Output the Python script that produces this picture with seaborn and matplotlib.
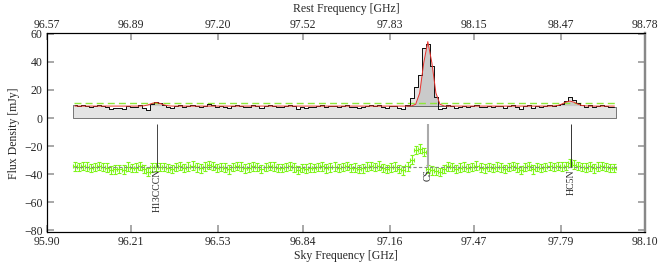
import numpy as np
import pandas as pd
import seaborn as sns
import matplotlib.pyplot as plt

# channel grid (sky frequency, GHz)
chan_start = 95.995
chan_width = 0.014925
n_chan = 134

# observed flux per channel [mJy]
flux = [9.0, 8.6, 9.4, 8.8, 7.9, 8.4, 9.1, 8.7, 8.2, 6.6,
        6.8, 7.3, 6.7, 8.9, 7.8, 8.1, 9.3, 7.4, 6.0, 10.2,
        11.2, 10.6, 9.4, 8.1, 7.0, 8.6, 9.2, 7.9, 8.8, 9.6,
        8.3, 7.6, 8.9, 9.9, 9.1, 8.0, 8.7, 8.2, 6.9, 8.5,
        9.3, 8.8, 7.5, 8.1, 9.0, 8.4, 7.2, 8.6, 9.4, 8.9,
        8.0, 7.7, 8.5, 9.2, 8.3, 6.4, 8.0, 7.4, 8.1, 7.9,
        8.6, 9.0, 7.6, 8.3, 8.9, 8.0, 8.4, 9.3, 7.8, 8.2,
        7.0, 7.5, 8.8, 9.1, 8.4, 9.6, 8.0, 7.1, 8.3, 8.9,
        7.3, 6.2, 9.0, 14.0, 22.0, 31.0, 50.0, 53.0, 37.0, 15.0,
        6.2, 7.4, 9.0, 8.6, 7.2, 8.1, 8.8, 7.9, 8.4, 9.5,
        8.2, 7.6, 8.7, 8.0, 8.9, 8.3, 7.0, 8.5, 9.2, 8.1,
        6.3, 8.4, 9.4, 6.8, 8.7, 8.0, 8.5, 9.1, 8.6, 9.6,
        10.3, 12.0, 15.2, 13.0, 10.8, 9.0, 8.2, 9.0, 7.6, 8.8,
        9.1, 8.4, 7.8, 7.9]

# fitted model per channel [mJy]
model = [8.5] * 17 + [8.7, 9.3, 10.4, 11.0, 10.4, 9.3, 8.7] + [8.5] * 59 + \
        [8.6, 9.8, 17.8, 39.4, 54.5, 39.4, 17.8, 9.8, 8.6] + [8.5] * 26 + \
        [8.6, 8.9, 9.9, 11.3, 12.1, 11.3, 9.9, 8.9, 8.6] + [8.5] * 7

noise_level = 10.4
resid_offset = -35.0
resid_err = 3.0

line_names = ["H13CCCN", "CS", "HC5N"]
line_freqs = [96.306, 97.301, 97.828]
line_colors = ["#444444", "#aaaaaa", "#333333"]

sky_ticks = [95.90, 96.21, 96.53, 96.84, 97.16, 97.47, 97.79, 98.10]
rest_labels = ["96.57", "96.89", "97.20", "97.52", "97.83", "98.15", "98.47", "98.78"]
y_ticks = [60, 40, 20, 0, -20, -40, -60, -80]

edges = chan_start + chan_width * np.arange(n_chan + 1)
centers = edges[:-1] + chan_width / 2
df = pd.DataFrame({"freq": centers, "flux": flux, "model": model})
df["resid"] = df["flux"] - df["model"] + resid_offset

sns.set_theme(style="ticks")
plt.rcParams["font.family"] = ["Liberation Serif", "DejaVu Serif"]
plt.rcParams["font.size"] = 8.5

fig = plt.figure(figsize=(6.64, 2.66), dpi=100)
ax = fig.add_axes([0.0708, 0.1267, 0.9006, 0.7481])

# grey filled spectrum
flux_edges = np.append(df["flux"].values, df["flux"].values[-1])
ax.fill_between(edges, 0, flux_edges, step="post", facecolor="#e4e4e4",
                edgecolor="#777777", lw=0.7, zorder=1)
lines_mask = df["model"] > 8.55
ax.fill_between(df["freq"], 8.5, df["model"], where=lines_mask, color="#9a9a9a",
                alpha=0.35, lw=0, zorder=2)
ax.hlines(8.5, 97.22, 97.38, color="#666666", lw=0.7, zorder=2)

sns.lineplot(data=df, x="freq", y="flux", drawstyle="steps-mid", color="black",
             lw=0.6, ax=ax, zorder=4)
sns.lineplot(data=df, x="freq", y="model", color="#e8322c", lw=0.7, ax=ax, zorder=5)
ax.axhline(noise_level, xmin=(96.0 - 95.9) / 2.2, xmax=(98.0 - 95.9) / 2.2,
           color="#8ee83a", ls=(0, (5, 3)), lw=1.0, zorder=3)

# residuals
ax.hlines(resid_offset, 96.0, 98.0, color="#888888", ls=(0, (3, 2)), lw=0.8, zorder=4)
ax.errorbar(df["freq"], df["resid"], xerr=chan_width / 2, yerr=resid_err, fmt="none",
            ecolor="#7ff51a", elinewidth=0.8, capsize=1.5, capthick=0.8, zorder=3)

# line identifications
for name, f, c in zip(line_names, line_freqs, line_colors):
    ax.vlines(f, -35, -4, color=c, lw=1.5 if name == "CS" else 0.7, zorder=6)
    ax.text(f, -36.5, name, rotation=90, ha="center", va="top", fontsize=7, zorder=7)

ax.set_xlim(95.90, 98.10)
ax.set_ylim(-81.5, 60.4)
ax.set_xticks(sky_ticks)
ax.set_xticklabels([f"{t:.2f}" for t in sky_ticks])
ax.set_yticks(y_ticks)
ax.set_xlabel("Sky Frequency [GHz]", fontsize=8.5, labelpad=1)
ax.set_ylabel("Flux Density [mJy]", fontsize=8.5, labelpad=3)
ax.tick_params(direction="in", length=5, color="#999999", width=1.2, pad=3,
               labelsize=8.5, right=True)

top = ax.twiny()
top.set_xlim(ax.get_xlim())
top.set_xticks(sky_ticks)
top.set_xticklabels(rest_labels)
top.set_xlabel("Rest Frequency [GHz]", fontsize=8.5, labelpad=5)
top.tick_params(direction="in", length=5, color="#999999", width=1.2, pad=2, labelsize=8.5)

for a in (ax, top):
    for s in a.spines.values():
        s.set_color("black")
        s.set_linewidth(0.8)
    a.spines["right"].set_color("#888888")
    a.spines["right"].set_linewidth(1.6)

fig.savefig("out.png", dpi=100)
